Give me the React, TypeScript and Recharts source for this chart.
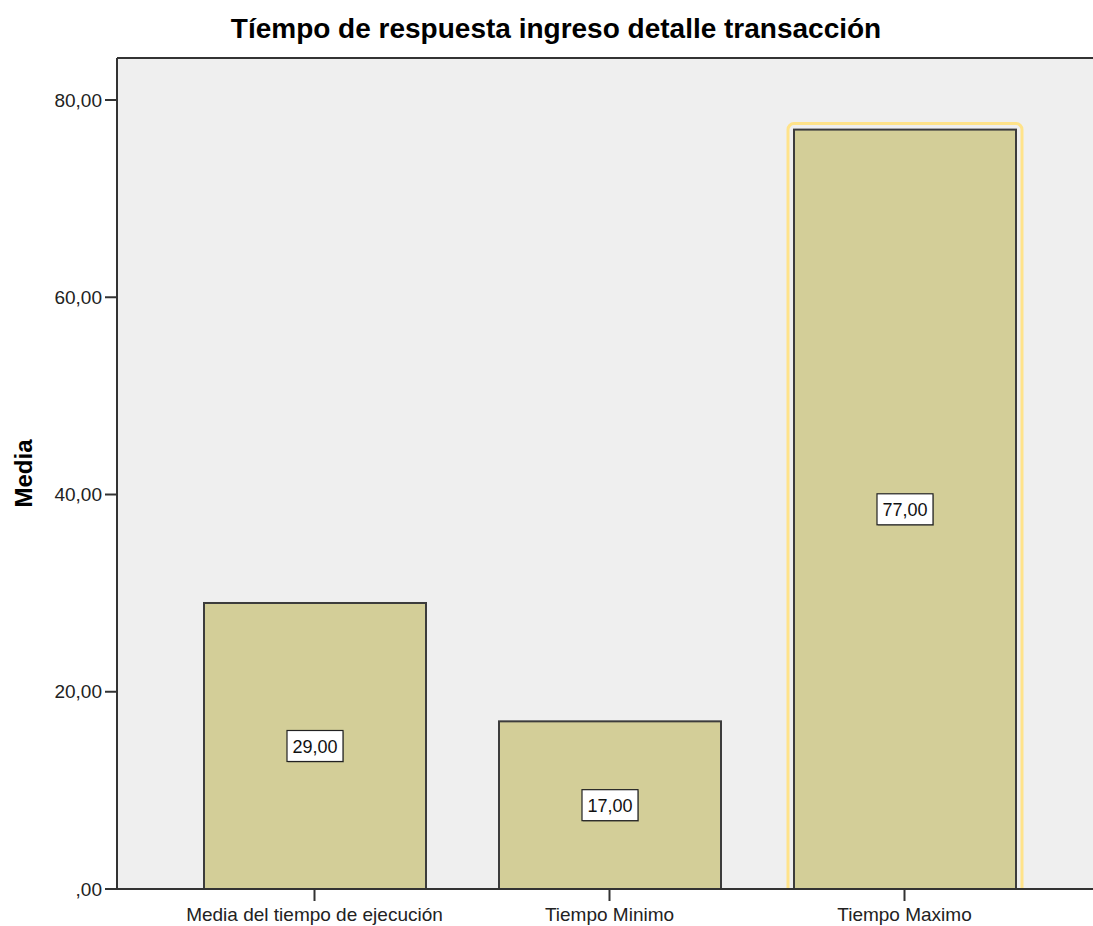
import React from 'react';
import {
  BarChart, Bar, XAxis, YAxis, CartesianGrid, LabelList, Label, ReferenceLine
} from 'recharts';

const categories = ['Media del tiempo de ejecución', 'Tiempo Minimo', 'Tiempo Maximo'];
const mediaValues = [29, 17, 77];
const yTicks = [0, 20, 40, 60, 80];
const selectedCategory = 'Tiempo Maximo';

const Y_MAX = 84.26;
const FONT = '"Liberation Sans", Arial, sans-serif';

const data = categories.map((name, i) => ({ name, value: mediaValues[i] }));

const fmt = (v: number) => (v === 0 ? ',00' : v.toFixed(2).replace('.', ','));

const BarShape = (props: any) => {
  const { x, y, width, height, payload } = props;
  const selected = payload && payload.name === selectedCategory;
  return (
    <g>
      {selected && (
        <rect
          x={x - 6}
          y={y - 6}
          width={width + 12}
          height={height + 12}
          rx={6}
          ry={6}
          fill="none"
          stroke="#FFE38A"
          strokeWidth={3}
        />
      )}
      <rect x={x} y={y} width={width} height={height} fill="#D3CE98" stroke="#3C3C3C" strokeWidth={2} />
    </g>
  );
};

const ValueBox = (props: any) => {
  const { x, y, width, height, value } = props;
  const cx = x + width / 2;
  const cy = y + height / 2;
  const w = 56;
  const h = 31;
  return (
    <g>
      <rect x={cx - w / 2 + 1} y={cy - h / 2 + 1} width={w} height={h} fill="#6b6b5a" opacity={0.5} />
      <rect x={cx - w / 2} y={cy - h / 2} width={w} height={h} fill="#fff" stroke="#222" strokeWidth={1.2} />
      <text
        x={cx}
        y={cy + 1}
        textAnchor="middle"
        dominantBaseline="central"
        fontFamily={FONT}
        fontSize={18}
        fill="#111"
      >
        {fmt(value)}
      </text>
    </g>
  );
};

const YTitle = (props: any) => {
  const vb = props.viewBox || {};
  const cy = vb.y + vb.height / 2;
  return (
    <text
      x={32}
      y={cy}
      transform={`rotate(-90, 32, ${cy})`}
      textAnchor="middle"
      fontFamily={FONT}
      fontWeight="bold"
      fontSize={24}
      fill="#000"
    >
      Media
    </text>
  );
};

export default function App() {
  return (
    <div style={{ position: 'absolute', left: 0, top: 0, width: 1093, height: 926, background: '#fff', overflow: 'hidden' }}>
      <div
        style={{
          position: 'absolute',
          left: 20,
          width: 1072,
          top: 13,
          textAlign: 'center',
          fontFamily: FONT,
          fontWeight: 'bold',
          fontSize: 28,
          color: '#000',
        }}
      >
        Tíempo de respuesta ingreso detalle transacción
      </div>
      <BarChart
        width={1110}
        height={926}
        data={data}
        margin={{ top: 58, right: 0, bottom: 0, left: 0 }}
        style={{ position: 'absolute', left: 0, top: 0 }}
      >
        <CartesianGrid fill="#EFEFEF" horizontal={false} vertical={false} />
        <XAxis
          dataKey="name"
          height={37}
          padding={{ left: 50, right: 58 }}
          tickSize={12}
          tickMargin={7}
          axisLine={{ stroke: '#333', strokeWidth: 2 }}
          tickLine={{ stroke: '#333', strokeWidth: 2 }}
          tick={{ fill: '#222', fontSize: 19, fontFamily: FONT }}
          interval={0}
        />
        <YAxis
          width={117}
          domain={[0, Y_MAX]}
          ticks={yTicks}
          tickFormatter={fmt}
          tickSize={12}
          tickMargin={3}
          axisLine={{ stroke: '#333', strokeWidth: 2 }}
          tickLine={{ stroke: '#333', strokeWidth: 2 }}
          tick={{ fill: '#222', fontSize: 19, fontFamily: FONT }}
          allowDataOverflow
        >
          <Label content={YTitle} />
        </YAxis>
        <ReferenceLine y={Y_MAX} stroke="#333" strokeWidth={2} />
        <Bar dataKey="value" barSize={222} shape={BarShape} isAnimationActive={false}>
          <LabelList dataKey="value" content={ValueBox} />
        </Bar>
      </BarChart>
    </div>
  );
}
